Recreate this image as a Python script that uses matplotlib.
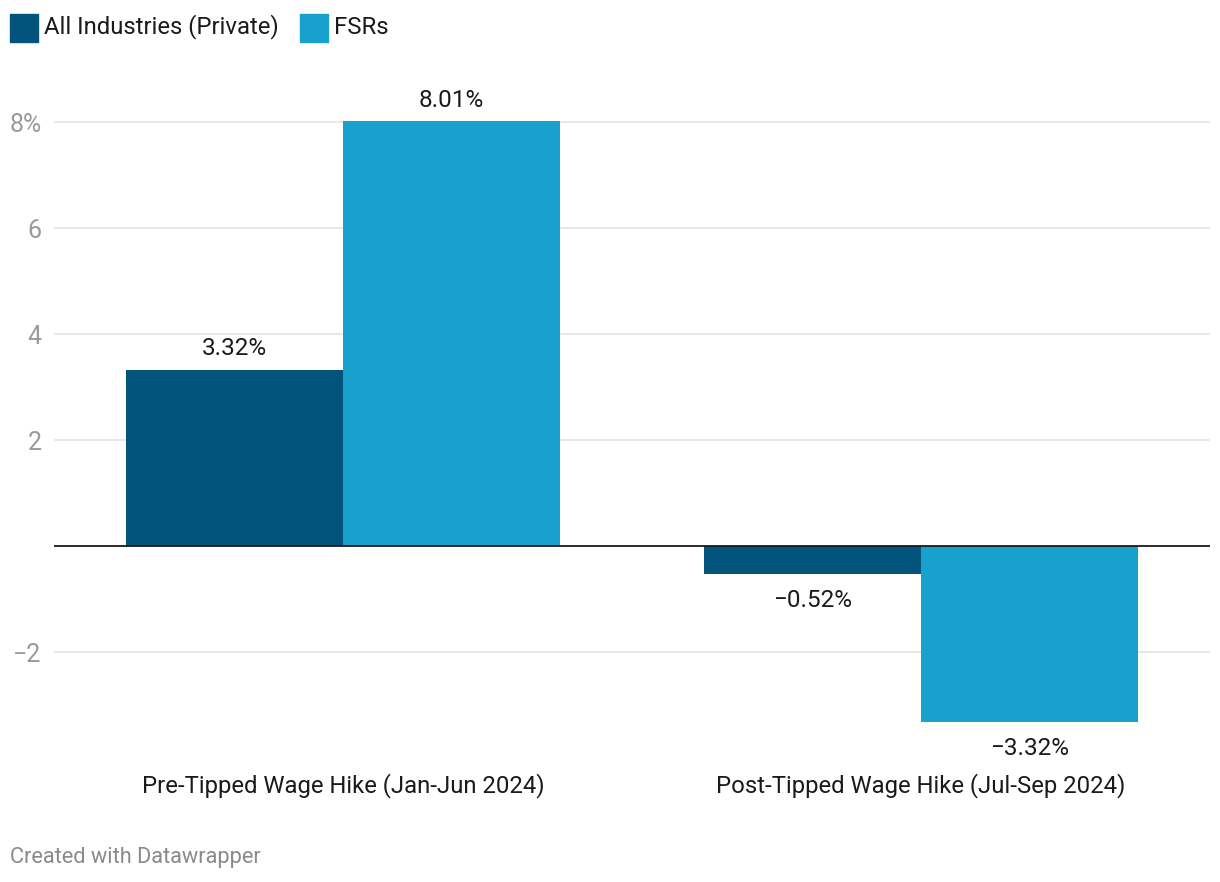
import matplotlib.pyplot as plt
from matplotlib.patches import Rectangle

plt.rcParams['font.family'] = ['Roboto', 'DejaVu Sans']

# data
categories = ['Pre-Tipped Wage Hike (Jan-Jun 2024)', 'Post-Tipped Wage Hike (Jul-Sep 2024)']
series_names = ['All Industries (Private)', 'FSRs']
all_industries = [3.32, -0.52]
fsrs = [8.01, -3.32]
yticks = [-2, 2, 4, 6, 8]
ytick_labels = ['\u22122', '2', '4', '6', '8%']

dark = '#03547c'
light = '#18a1cd'

W, H = 1220, 882
fig = plt.figure(figsize=(W / 100, H / 100), dpi=100)

# axes placed in pixel terms
ymin, ymax = -3.4, 8.2
px_per_unit = 53.0
y0_px = 546
top_px = y0_px - ymax * px_per_unit
bot_px = y0_px - ymin * px_per_unit
left_px, right_px = 54, 1210
ax = fig.add_axes([left_px / W, 1 - bot_px / H, (right_px - left_px) / W, (bot_px - top_px) / H])
ax.set_xlim(-0.5, 1.5)
ax.set_ylim(ymin, ymax)

bw = 217 / 578
x = [0, 1]
ax.bar([i - bw / 2 for i in x], all_industries, width=bw, color=dark, zorder=2)
ax.bar([i + bw / 2 for i in x], fsrs, width=bw, color=light, zorder=2)

def fmt(v):
    s = f'{abs(v):.2f}%'
    return ('\u2212' + s) if v < 0 else s

for i in x:
    for off, vals in [(-bw / 2, all_industries), (bw / 2, fsrs)]:
        v = vals[i]
        if v >= 0:
            ax.annotate(fmt(v), (i + off, v), xytext=(0, 7), textcoords='offset points',
                        ha='center', va='bottom', fontsize=17.5, color='#1a1a1a')
        else:
            ax.annotate(fmt(v), (i + off, v), xytext=(0, -11), textcoords='offset points',
                        ha='center', va='top', fontsize=17.5, color='#1a1a1a')

for t in yticks:
    ax.axhline(t, color='#e3e3e3', lw=1.2, zorder=0)
ax.axhline(0, color='#1a1a1a', lw=1.3, zorder=3)

ax.set_yticks(yticks)
ax.set_yticklabels(ytick_labels, fontsize=18, color='#9a9a9a')
ax.tick_params(axis='y', length=0, pad=9)
ax.set_xticks(x)
ax.set_xticklabels(categories, fontsize=17.2, color='#1a1a1a')
ax.tick_params(axis='x', length=0, pad=34)
for s in ax.spines.values():
    s.set_visible(False)

# legend
for sx, name, c in [(10, series_names[0], dark), (300, series_names[1], light)]:
    fig.patches.append(Rectangle((sx / W, 1 - 42 / H), 28 / W, 28 / H,
                                 transform=fig.transFigure, color=c))
    fig.text((sx + 34) / W, 1 - 27 / H, name, fontsize=17.2, color='#1a1a1a', va='center')

fig.text(10 / W, 1 - 857 / H, 'Created with Datawrapper', fontsize=15.7, color='#8a8a8a', va='center')

fig.savefig('out.png', dpi=100, facecolor='white')
